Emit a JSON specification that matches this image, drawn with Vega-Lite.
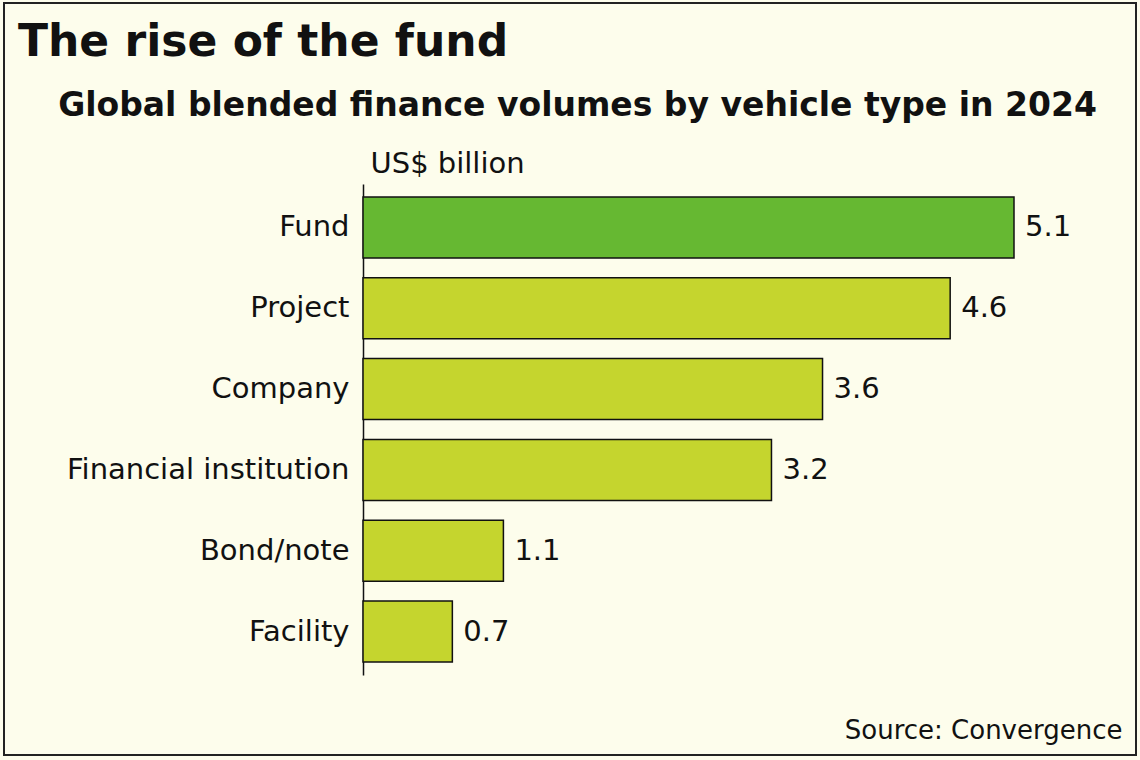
{
  "$schema": "https://vega.github.io/schema/vega-lite/v6.json",
  "width": 1132,
  "height": 752,
  "autosize": {"type": "none"},
  "padding": {"left": 4, "top": 3, "right": 4, "bottom": 5},
  "background": "#fdfdec",
  "title": {
    "text": "The rise of the fund",
    "anchor": "start",
    "frame": "group",
    "font": "DejaVu Sans",
    "fontSize": 44,
    "fontWeight": "bold",
    "color": "#111111",
    "baseline": "alphabetic",
    "offset": 0,
    "dx": 14,
    "dy": 97
  },
  "data": {
    "values": [
      {"type": "Fund", "value": 5.1, "highlight": "yes"},
      {"type": "Project", "value": 4.6, "highlight": "no"},
      {"type": "Company", "value": 3.6, "highlight": "no"},
      {"type": "Financial institution", "value": 3.2, "highlight": "no"},
      {"type": "Bond/note", "value": 1.1, "highlight": "no"},
      {"type": "Facility", "value": 0.7, "highlight": "no"}
    ]
  },
  "encoding": {
    "y": {
      "field": "type",
      "type": "nominal",
      "sort": null,
      "scale": {"range": [181, 672], "paddingInner": 0.245, "paddingOuter": 0.16},
      "axis": {
        "title": "US$ billion",
        "titleAngle": 0,
        "titleAlign": "left",
        "titleBaseline": "alphabetic",
        "titleX": 7,
        "titleY": 169,
        "titleFont": "DejaVu Sans",
        "titleFontSize": 29,
        "titleFontWeight": "normal",
        "titleColor": "#111111",
        "offset": -359,
        "ticks": false,
        "labelPadding": 14,
        "labelFont": "DejaVu Sans",
        "labelFontSize": 29,
        "labelColor": "#111111",
        "labelLimit": 400,
        "domainColor": "#111111",
        "domainWidth": 1.5
      }
    }
  },
  "layer": [
    {
      "mark": {"type": "bar", "stroke": "#111111", "strokeWidth": 1.5},
      "encoding": {
        "x": {
          "field": "value",
          "type": "quantitative",
          "scale": {"domain": [0, 5.1], "range": [359, 1010], "nice": false, "zero": true},
          "axis": {
            "orient": "top",
            "title": "Global blended finance volumes by vehicle type in 2024",
            "titleX": 573,
            "titleY": 112,
            "titleAlign": "center",
            "titleBaseline": "alphabetic",
            "titleFont": "DejaVu Sans",
            "titleFontSize": 33,
            "titleFontWeight": "bold",
            "titleColor": "#111111",
            "labels": false,
            "ticks": false,
            "domain": false,
            "grid": false
          }
        },
        "color": {
          "field": "highlight",
          "type": "nominal",
          "scale": {"domain": ["yes", "no"], "range": ["#66b832", "#c5d52e"]},
          "legend": null
        }
      }
    },
    {
      "mark": {"type": "text", "align": "left", "baseline": "middle", "dx": 11, "font": "DejaVu Sans", "fontSize": 29, "color": "#111111"},
      "encoding": {
        "x": {
          "field": "value",
          "type": "quantitative",
          "axis": {
            "orient": "bottom",
            "title": "Source: Convergence",
            "titleX": 1118,
            "titleY": -17,
            "titleAlign": "right",
            "titleBaseline": "alphabetic",
            "titleFont": "DejaVu Sans",
            "titleFontSize": 26,
            "titleFontWeight": "normal",
            "titleColor": "#111111",
            "labels": false,
            "ticks": false,
            "domain": false,
            "grid": false
          }
        },
        "text": {"field": "value", "type": "quantitative", "format": ".1f"}
      }
    }
  ],
  "resolve": {"axis": {"x": "independent"}},
  "config": {
    "view": {"stroke": "#222222", "strokeWidth": 2}
  }
}
